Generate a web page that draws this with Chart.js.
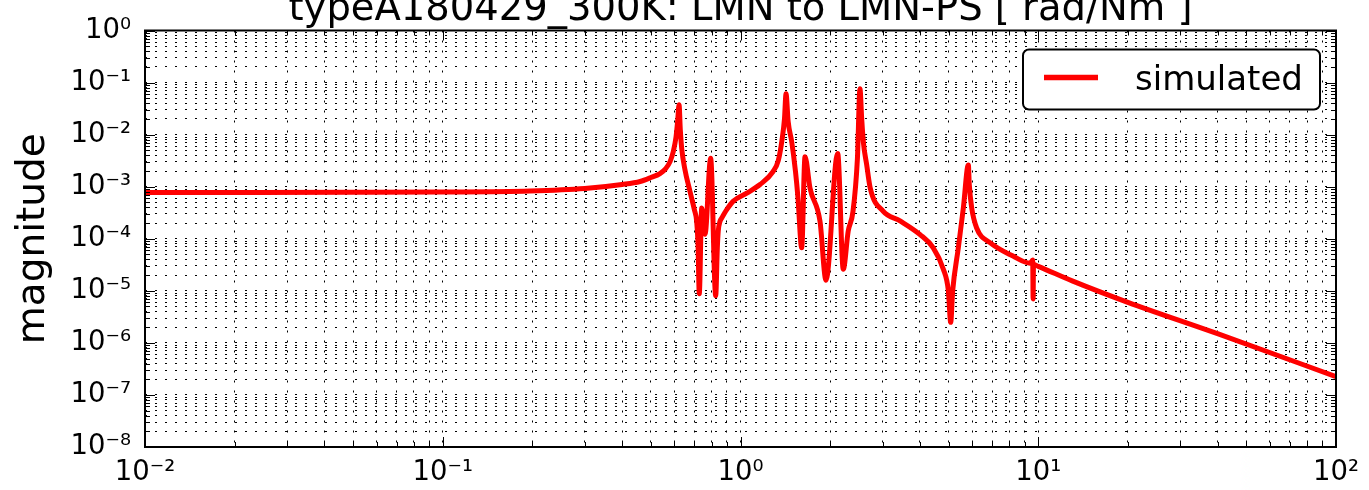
<!DOCTYPE html>
<html><head><meta charset="utf-8">
<script src="https://cdn.jsdelivr.net/npm/chart.js@4/dist/chart.umd.min.js"></script>
<style>html,body{margin:0;padding:0;background:#fff;}#wrap{width:1369px;height:490px;}</style>
</head><body><div id="wrap"><canvas id="c" width="1369" height="490"></canvas></div>
<script>
const chartTitle = 'typeA180429_300K: LMN to LMN-PS [ rad/Nm ]';
const seriesLabel = 'simulated';
const yAxisTitle = 'magnitude';

const freq = [0.01,0.02,0.05,0.1,0.196,0.3,0.4,0.46,0.5,0.5365,0.56,0.58,0.595,0.6075,0.615,0.6217,0.628,0.6347,0.65,0.6767,
  0.70,0.7124,0.72,0.727,0.741,0.760,0.794,0.8255,0.836,0.842,0.8535,0.865,0.899,0.944,1.05,1.163,1.286,1.34,1.379,1.405,
  1.422,1.446,1.486,1.53,1.56,1.605,1.647,1.712,1.849,1.937,2.12,2.214,2.30,2.387,2.47,2.519,2.553,2.585,2.653,2.727,
  3.017,3.434,4.01,4.44,4.8,4.99,5.081,5.16,5.39,5.603,5.824,5.867,5.977,6.21,6.887,8.226,9.4,9.58,9.61,9.64,
  10,13,20,40,100];
const mag = [7.75e-4,7.76e-4,7.8e-4,7.9e-4,8.25e-4,9.2e-4,1.1e-3,1.26e-3,1.5e-3,1.79e-3,2.2e-3,3.03e-3,4.8e-3,9.1e-3,0.018,0.0375,0.012,5.43e-3,2.2e-3,8.1e-4,
  3.6e-4,2.17e-4,8e-5,8.77e-6,3.89e-4,1.22e-4,3.5e-3,8.0e-6,6.7e-5,1.4e-4,2.17e-4,2.5e-4,3.62e-4,5.22e-4,7.5e-4,1.10e-3,1.95e-3,3.2e-3,8e-3,0.02,
  0.0609,0.0176,7.3e-3,1.95e-3,6.0e-4,6.7e-5,3.77e-3,9.36e-4,2.17e-4,1.6e-5,4.36e-3,2.6e-5,1.4e-4,3.36e-4,3.5e-3,0.0758,0.0203,7.3e-3,2.65e-3,9.4e-4,
  3.36e-4,2.2e-4,1.2e-4,6.7e-5,2.6e-5,1e-5,2.48e-6,1e-5,6.7e-5,3.9e-4,2.62e-3,1.09e-3,3.9e-4,1.61e-4,8.4e-5,4.65e-5,3.4e-5,3.9e-5,7e-6,3.2e-5,
  2.95e-5,1.55e-5,6.0e-6,1.5e-6,2.25e-7];

const xDecades = [-2,-1,0,1,2];
const xTickLabels = ['10\u207B\u00B2','10\u207B\u00B9','10\u2070','10\u00B9','10\u00B2'];
const yDecades = [-8,-7,-6,-5,-4,-3,-2,-1,0];
const yTickLabels = ['10\u207B\u2078','10\u207B\u2077','10\u207B\u2076','10\u207B\u2075','10\u207B\u2074','10\u207B\u00B3','10\u207B\u00B2','10\u207B\u00B9','10\u2070'];

function logTicks(decs){
  const out=[];
  for(let i=0;i<decs.length;i++){
    const d=decs[i];
    if(i===decs.length-1){out.push({value:Math.pow(10,d)});break;}
    for(let m=1;m<10;m++) out.push({value:parseFloat((m*Math.pow(10,d)).toPrecision(10))});
  }
  return out;
}
function labelFor(v, decs, labels){
  const l=Math.log10(v), e=Math.round(l);
  if(Math.abs(l-e)<1e-9){const i=decs.indexOf(e); return i>=0?labels[i]:'';}
  return '';
}
function isMajor(v){const l=Math.log10(v);return Math.abs(l-Math.round(l))<1e-9;}

Chart.defaults.font.family = "'DejaVu Sans', sans-serif";
Chart.defaults.color = '#000';

const framePlugin = {
  id:'frameTicks',
  afterDraw(chart){
    const {ctx, chartArea:a} = chart;
    const xs = chart.scales.x, ys = chart.scales.y;
    ctx.save();
    ctx.strokeStyle='#000'; ctx.lineWidth=1;
    ctx.beginPath();
    xs.ticks.forEach(t=>{
      const p=Math.round(xs.getPixelForValue(t.value))+0.5;
      const len=isMajor(t.value)?10:5;
      ctx.moveTo(p,a.bottom); ctx.lineTo(p,a.bottom-len);
      ctx.moveTo(p,a.top); ctx.lineTo(p,a.top+len);
    });
    ys.ticks.forEach(t=>{
      const p=Math.round(ys.getPixelForValue(t.value))+0.5;
      const len=isMajor(t.value)?10:5;
      ctx.moveTo(a.left,p); ctx.lineTo(a.left+len,p);
      ctx.moveTo(a.right,p); ctx.lineTo(a.right-len,p);
    });
    ctx.stroke();
    ctx.lineWidth=2;
    ctx.strokeRect(a.left,a.top,a.right-a.left,a.bottom-a.top);
    // legend
    const ds = chart.data.datasets[0];
    const bx=a.right-313, by=a.top+19, bw=297, bh=60, r=6;
    ctx.beginPath();
    ctx.moveTo(bx+r,by); ctx.lineTo(bx+bw-r,by); ctx.arcTo(bx+bw,by,bx+bw,by+r,r);
    ctx.lineTo(bx+bw,by+bh-r); ctx.arcTo(bx+bw,by+bh,bx+bw-r,by+bh,r);
    ctx.lineTo(bx+r,by+bh); ctx.arcTo(bx,by+bh,bx,by+bh-r,r);
    ctx.lineTo(bx,by+r); ctx.arcTo(bx,by,bx+r,by,r); ctx.closePath();
    ctx.fillStyle='#fff'; ctx.fill();
    ctx.lineWidth=2; ctx.strokeStyle='#000'; ctx.stroke();
    ctx.beginPath(); ctx.strokeStyle=ds.borderColor; ctx.lineWidth=5.5; ctx.lineCap='butt';
    ctx.moveTo(bx+21,by+28); ctx.lineTo(bx+75,by+28); ctx.stroke();
    ctx.fillStyle='#000'; ctx.font="34px 'DejaVu Sans'"; ctx.textBaseline='alphabetic'; ctx.textAlign='left';
    ctx.fillText(ds.label, bx+112, by+40);
    ctx.restore();
  }
};

new Chart(document.getElementById('c'), {
  type:'line',
  data:{datasets:[{label:seriesLabel, data:freq.map((f,i)=>({x:f,y:mag[i]})), borderColor:'#ff0000', borderWidth:5,
    pointRadius:0, cubicInterpolationMode:'monotone', borderJoinStyle:'round', borderCapStyle:'round', fill:false}]},
  options:{
    responsive:false, animation:false, devicePixelRatio:1,
    layout:{padding:{left:0,right:33,top:0,bottom:0}},
    plugins:{
      legend:{display:false}, tooltip:{enabled:false},
      title:{display:true, fullSize:false, text:chartTitle, font:{size:38.5, weight:'normal', family:"'DejaVu Sans'"}, color:'#000',
        padding:{top:-16,bottom:-2.8}}
    },
    scales:{
      x:{type:'logarithmic', min:0.01, max:100,
        afterBuildTicks:(s)=>{s.ticks=logTicks(xDecades);},
        afterFit:(s)=>{s.height=43;},
        ticks:{autoSkip:false, maxRotation:0, minRotation:0, padding:9, font:{size:27.5},
          callback:(v)=>labelFor(v,xDecades,xTickLabels)},
        grid:{color:'#000', lineWidth:1, drawTicks:false},
        border:{display:false, dash:[2,8]}
      },
      y:{type:'logarithmic', min:1e-8, max:1,
        afterBuildTicks:(s)=>{s.ticks=logTicks(yDecades);},
        afterFit:(s)=>{s.width=145;},
        title:{display:true, text:yAxisTitle, font:{size:39}, color:'#000', padding:{top:10,bottom:0}},
        ticks:{autoSkip:false, padding:14, font:{size:27.5},
          callback:(v)=>labelFor(v,yDecades,yTickLabels)},
        grid:{color:'#000', lineWidth:1, drawTicks:false},
        border:{display:false, dash:[2,8]}
      }
    }
  },
  plugins:[framePlugin]
});
</script></body></html>
